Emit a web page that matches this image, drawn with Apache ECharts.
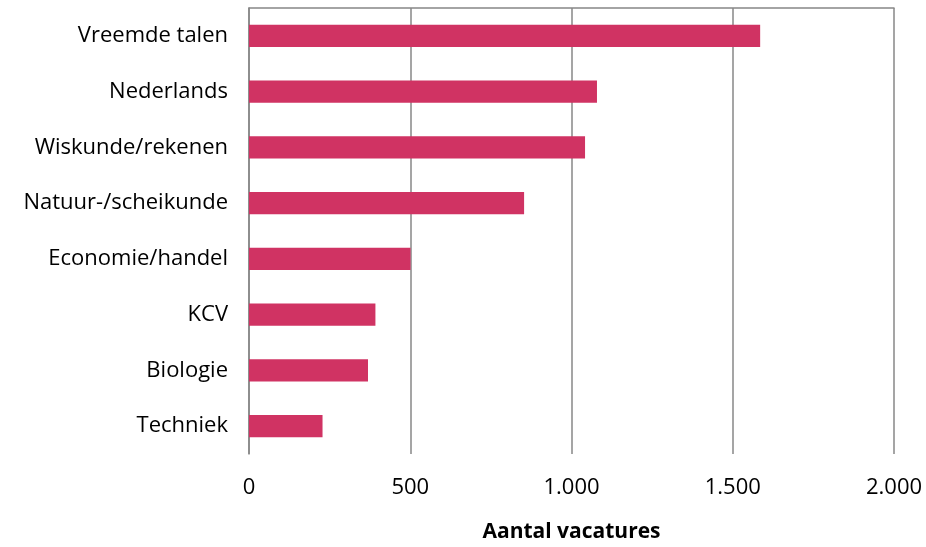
<!DOCTYPE html>
<html>
<head>
<meta charset="utf-8">
<script src="https://cdn.jsdelivr.net/npm/echarts@6/dist/echarts.min.js"></script>
<style>html,body{margin:0;padding:0;background:#fff}#c{width:926px;height:547px}</style>
</head>
<body>
<div id="c"></div>
<script>
var categories = ["Vreemde talen","Nederlands","Wiskunde/rekenen","Natuur-/scheikunde","Economie/handel","KCV","Biologie","Techniek"];
var values = [1585, 1079, 1042, 853, 501, 392, 369, 228];
var xTicks = [0, 500, 1000, 1500, 2000];
var axisTitle = "Aantal vacatures";

var chart = echarts.init(document.getElementById('c'));
var fmt = function(v){ return String(v).replace(/\B(?=(\d{3})+(?!\d))/g, '.'); };
var FF = 'Open Sans';
chart.setOption({
  animation: false,
  grid: {left: 249, right: 32, top: 8, bottom: 93, outerBoundsMode: 'none', containLabel: false},
  xAxis: [{
    type: 'value', min: xTicks[0], max: xTicks[xTicks.length-1], interval: 500,
    position: 'bottom',
    axisLine: {show: false}, axisTick: {show: false},
    splitLine: {show: true, lineStyle: {color: '#878787', width: 1.5}},
    axisLabel: {formatter: fmt, fontFamily: FF, fontSize: 22, color: '#000', margin: 23},
    name: axisTitle, nameLocation: 'middle', nameGap: 68,
    nameTextStyle: {fontFamily: FF, fontSize: 21, fontWeight: 'bold', color: '#000'}
  },{
    type: 'value', min: 0, max: 2000, position: 'top',
    axisLine: {show: true, lineStyle: {color: '#878787', width: 1.5}},
    axisTick: {show: false}, axisLabel: {show: false}, splitLine: {show: false}
  }],
  yAxis: {
    type: 'category', data: categories, inverse: true,
    axisLine: {show: true, lineStyle: {color: '#878787', width: 1.5}},
    axisTick: {show: false},
    axisLabel: {fontFamily: FF, fontSize: 22, color: '#000', margin: 21}
  },
  series: [{
    type: 'bar', data: values, xAxisIndex: 0,
    barCategoryGap: '60%',
    itemStyle: {color: '#D03363'}
  }]
});
</script>
</body>
</html>
